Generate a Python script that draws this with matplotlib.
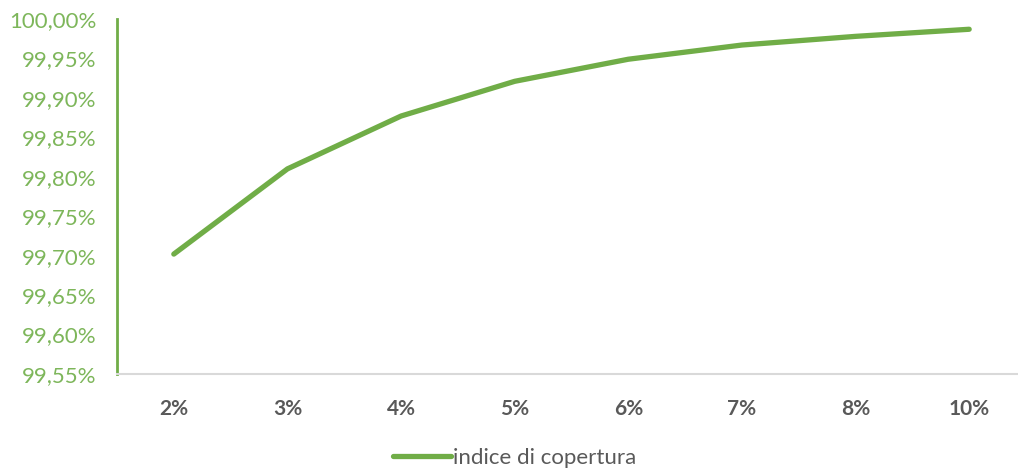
import matplotlib.pyplot as plt
from matplotlib.ticker import FuncFormatter
from matplotlib.lines import Line2D

categorie = ['2%', '3%', '4%', '5%', '6%', '7%', '8%', '10%']
copertura = [99.702, 99.810, 99.877, 99.921, 99.949, 99.967, 99.978, 99.987]
y_ticks = [99.55, 99.60, 99.65, 99.70, 99.75, 99.80, 99.85, 99.90, 99.95, 100.00]

plt.rcParams['font.family'] = ['Lato', 'DejaVu Sans']

verde = '#70AD47'
grigio = '#595959'

fig = plt.figure(figsize=(10.18, 4.70), dpi=100)
ax = fig.add_axes([117/1018, 96/470, 909/1018, 355/470])

x = range(len(categorie))
ax.plot(x, copertura, color=verde, linewidth=3.8, solid_capstyle='round',
        solid_joinstyle='round')

ax.set_xlim(-0.5, len(categorie) - 0.5)
ax.set_ylim(99.55, 100.00)
ax.set_yticks(y_ticks)
ax.yaxis.set_major_formatter(FuncFormatter(lambda v, p: f'{v:.2f}%'.replace('.', ',')))
ax.set_xticks(list(x))
ax.set_xticklabels(categorie, fontweight='bold')

ax.tick_params(axis='y', length=0, pad=15, labelsize=16, labelcolor='#7DB65A')
ax.tick_params(axis='x', length=0, pad=18, labelsize=15, labelcolor=grigio)

for s in ['top', 'right']:
    ax.spines[s].set_visible(False)
ax.spines['left'].set_color(verde)
ax.spines['left'].set_linewidth(2)
ax.spines['bottom'].set_color('#D9D9D9')
ax.spines['bottom'].set_linewidth(1.5)

handle = Line2D([], [], color=verde, linewidth=3.8, solid_capstyle='round')
fig.legend([handle], ['indice di copertura'], loc='center', bbox_to_anchor=(515/1018, 12/470),
           frameon=False, fontsize=16, labelcolor=grigio, handlelength=2.6, handletextpad=0.1)

fig.savefig('out.png', dpi=100)
